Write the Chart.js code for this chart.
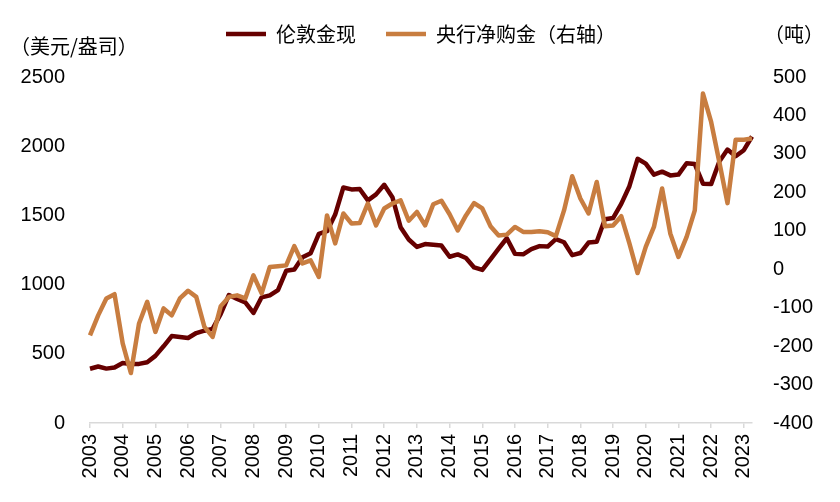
<!DOCTYPE html>
<html>
<head>
<meta charset="utf-8">
<script src="https://cdn.jsdelivr.net/npm/chart.js@4/dist/chart.umd.min.js"></script>
<style>
  html, body { margin: 0; padding: 0; background: #fff; }
  #wrap { width: 840px; height: 502px; }
</style>
</head>
<body>
<div id="wrap"><canvas id="goldChart" width="840" height="502"></canvas></div>
<script>
// tick labels
const yearLabels = ['2003', '2004', '2005', '2006', '2007', '2008', '2009', '2010', '2011', '2012',
  '2013', '2014', '2015', '2016', '2017', '2018', '2019', '2020', '2021', '2022', '2023'];
const leftTicks = [0, 500, 1000, 1500, 2000, 2500];
const rightTicks = [-400, -300, -200, -100, 0, 100, 200, 300, 400, 500];

// quarterly categories, 2003Q4 .. 2024Q1
const quarterLabels = ['2003Q4'];
for (let y = 2004; y <= 2023; y++) {
  for (let q = 1; q <= 4; q++) quarterLabels.push(y + 'Q' + q);
}
quarterLabels.push('2024Q1');

// London gold spot, USD/oz (quarterly average)
const londonGold = [
  392,
  408, 393, 401, 434,
  427, 427, 439, 485,
  554, 628, 622, 614,
  650, 667, 680, 788,
  925, 896, 872, 795,
  908, 922, 960, 1100,
  1109, 1197, 1227, 1367,
  1386, 1506, 1702, 1688,
  1691, 1609, 1652, 1721,
  1632, 1415, 1326, 1272,
  1293, 1288, 1282, 1201,
  1218, 1192, 1124, 1106,
  1183, 1260, 1335, 1222,
  1219, 1257, 1278, 1275,
  1329, 1306, 1213, 1228,
  1304, 1310, 1472, 1481,
  1583, 1711, 1909, 1874,
  1794, 1816, 1789, 1795,
  1877, 1871, 1729, 1726,
  1890, 1976, 1928, 1971,
  2070
];

// central bank net gold purchases, tonnes (right axis)
const cbNetBuying = [
  -172,
  -120, -76, -65, -193,
  -270, -141, -85, -163,
  -102, -120, -76, -56,
  -72, -150, -176, -96,
  -72, -68, -76, -16,
  -63, 6, 8, 10,
  60, 15, 23, -20,
  140, 67, 145, 119,
  120, 171, 114, 158,
  171, 179, 126, 149,
  114, 169, 178, 143,
  101, 140, 172, 158,
  112, 88, 90, 110,
  97, 97, 99, 96,
  86, 153, 242, 184,
  145, 227, 112, 114,
  138, 67, -10, 58,
  110, 210, 93, 32,
  84, 153, 457, 383,
  279, 172, 337, 337,
  340
];

const numFont = 'Liberation Sans, Arial, sans-serif';
const cjkFont = '"Noto Sans CJK SC", "Liberation Sans", sans-serif';

// unit labels above each y axis
const axisUnits = {
  id: 'axisUnits',
  afterDraw(chart) {
    const ctx = chart.ctx;
    ctx.save();
    ctx.font = '20px ' + cjkFont;
    ctx.fillStyle = '#000';
    ctx.textBaseline = 'middle';
    ctx.textAlign = 'left';
    ctx.fillText('（美元/盎司）', 10, 46);
    ctx.textAlign = 'right';
    ctx.fillText('（吨）', 824, 34);
    ctx.restore();
  }
};

new Chart(document.getElementById('goldChart'), {
  type: 'line',
  data: {
    labels: quarterLabels,
    datasets: [{
      label: '伦敦金现',
      data: londonGold,
      yAxisID: 'y',
      borderColor: '#660000',
      backgroundColor: '#660000',
      borderWidth: 4.5,
      borderJoinStyle: 'round',
      pointRadius: 0,
      tension: 0,
      order: 1
    }, {
      label: '央行净购金（右轴）',
      data: cbNetBuying,
      yAxisID: 'y1',
      borderColor: '#C87D40',
      backgroundColor: '#C87D40',
      borderWidth: 4.5,
      borderJoinStyle: 'round',
      pointRadius: 0,
      tension: 0,
      order: 0
    }]
  },
  options: {
    responsive: false,
    animation: false,
    devicePixelRatio: 1,
    layout: { padding: { top: -6, left: 2, right: 0, bottom: 0 } },
    plugins: {
      tooltip: { enabled: false },
      legend: {
        position: 'top',
        labels: {
          usePointStyle: true,
          pointStyle: 'line',
          pointStyleWidth: 40,
          padding: 30,
          color: '#000',
          font: { family: cjkFont, size: 20 },
          sort: (a, b) => a.datasetIndex - b.datasetIndex
        }
      },
      // empty title used as a gap between legend and plot
      title: {
        display: true,
        text: '',
        weight: 500,
        font: { size: 10, lineHeight: 1 },
        padding: { top: 0, bottom: 13 }
      }
    },
    scales: {
      x: {
        type: 'category',
        offset: false,
        grid: {
          display: true,
          drawOnChartArea: false,
          drawTicks: true,
          tickLength: 5,
          lineWidth: 1.5,
          color: (c) => c.index % 4 === 0 ? '#d9d9d9' : 'rgba(0,0,0,0)'
        },
        border: { display: true, color: '#d9d9d9', width: 1.5 },
        ticks: {
          autoSkip: false,
          minRotation: 90,
          maxRotation: 90,
          padding: 6,
          color: '#000',
          font: { family: numFont, size: 20 },
          callback: (v, i) => i % 4 === 0 ? yearLabels[i / 4] : ''
        },
        afterFit: (s) => { s.height = 79; }
      },
      y: {
        position: 'left',
        min: 0,
        max: 2500,
        afterBuildTicks: (s) => { s.ticks = leftTicks.map(v => ({ value: v })); },
        grid: { display: false, drawTicks: false },
        border: { display: false },
        ticks: {
          padding: 25,
          color: '#000',
          font: { family: numFont, size: 20 },
          callback: (v) => String(v)
        },
        afterFit: (s) => { s.width = 88; }
      },
      y1: {
        position: 'right',
        min: -400,
        max: 500,
        afterBuildTicks: (s) => { s.ticks = rightTicks.map(v => ({ value: v })); },
        grid: { display: false, drawTicks: false },
        border: { display: false },
        ticks: {
          padding: 21,
          color: '#000',
          font: { family: numFont, size: 20 },
          callback: (v) => String(v)
        },
        afterFit: (s) => { s.width = 88; }
      }
    }
  },
  plugins: [axisUnits]
});
</script>
</body>
</html>
